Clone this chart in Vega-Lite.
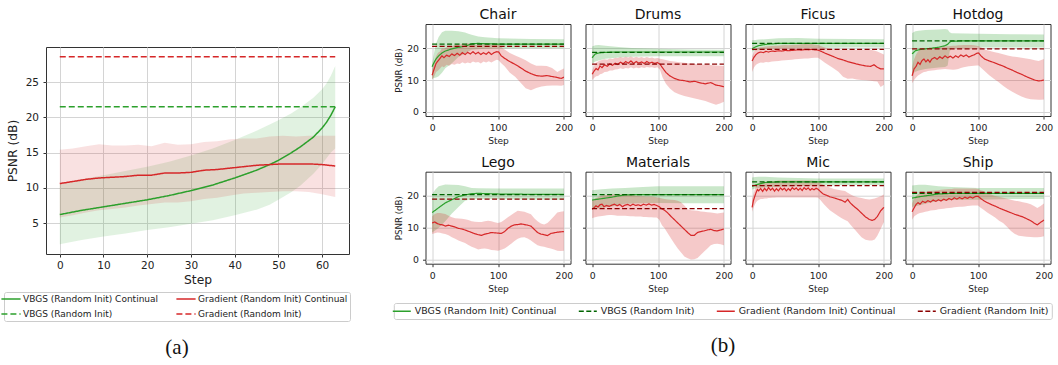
{
"$schema": "https://vega.github.io/schema/vega-lite/v6.json",
"background": "white",
"padding": {"left": 3, "top": 7, "right": 0, "bottom": 0},
"config": {
  "font": "DejaVu Sans",
  "view": {"stroke": "#333333", "strokeWidth": 1, "continuousWidth": 145, "continuousHeight": 92},
  "axis": {"grid": true, "gridColor": "#d4d4d4", "gridWidth": 1, "domain": false, "tickColor": "#333333", "tickSize": 3, "labelColor": "#222222", "titleColor": "#222222", "labelFont": "DejaVu Sans", "titleFont": "DejaVu Sans", "titleFontWeight": "normal", "labelFlush": false, "labelOverlap": false, "labelFontSize": 9.3, "titleFontSize": 9.1, "labelPadding": 4.5, "titlePadding": 3.5},
  "axisY": {"labelPadding": 4, "titlePadding": 3.4, "titleFontSize": 8.7},
  "legend": {"title": null, "strokeColor": "#cccccc", "fillColor": "white", "cornerRadius": 2, "labelColor": "#222222", "labelFont": "DejaVu Sans", "symbolStrokeWidth": 1.5},
  "title": {"font": "DejaVu Sans", "fontSize": 14, "fontWeight": "normal", "offset": 2, "color": "#111111", "anchor": "middle"}
},
"resolve": {"scale": {"color": "independent", "strokeDash": "independent", "x": "independent", "y": "independent"}, "legend": {"color": "independent", "strokeDash": "independent"}},
"spacing": 41.5,
"datasets": {
"a": [
{"k":"VC","t":0,"y":6.2,"l":2.0,"h":10.5},{"k":"VC","t":5,"y":6.8,"l":2.6,"h":11.2},{"k":"VC","t":10,"y":7.3,"l":3.1,"h":11.8},{"k":"VC","t":15,"y":7.8,"l":3.5,"h":12.4},{"k":"VC","t":20,"y":8.3,"l":4.0,"h":13.0},{"k":"VC","t":25,"y":8.9,"l":4.4,"h":13.7},{"k":"VC","t":30,"y":9.6,"l":4.9,"h":14.6},{"k":"VC","t":35,"y":10.4,"l":5.4,"h":15.6},{"k":"VC","t":40,"y":11.4,"l":6.1,"h":16.8},{"k":"VC","t":45,"y":12.5,"l":6.9,"h":18.1},{"k":"VC","t":48,"y":13.3,"l":7.6,"h":19.0},{"k":"VC","t":50,"y":13.9,"l":8.3,"h":19.6},{"k":"VC","t":53,"y":15.0,"l":9.4,"h":20.6},{"k":"VC","t":55,"y":15.8,"l":10.3,"h":21.4},{"k":"VC","t":58,"y":17.2,"l":12.0,"h":22.8},{"k":"VC","t":60,"y":18.5,"l":13.4,"h":24.0},{"k":"VC","t":61,"y":19.3,"l":14.2,"h":24.8},{"k":"VC","t":62,"y":20.3,"l":15.0,"h":25.9},{"k":"VC","t":63,"y":21.5,"l":15.6,"h":27.3},
{"k":"GC","t":0,"y":10.6,"l":5.8,"h":15.4},{"k":"GC","t":3,"y":10.9,"l":6.1,"h":15.6},{"k":"GC","t":6,"y":11.2,"l":6.5,"h":15.9},{"k":"GC","t":9,"y":11.4,"l":6.8,"h":16.2},{"k":"GC","t":12,"y":11.5,"l":7.0,"h":16.0},{"k":"GC","t":15,"y":11.6,"l":7.2,"h":16.0},{"k":"GC","t":18,"y":11.8,"l":7.5,"h":16.1},{"k":"GC","t":21,"y":11.8,"l":7.7,"h":15.9},{"k":"GC","t":24,"y":12.1,"l":7.9,"h":16.4},{"k":"GC","t":27,"y":12.1,"l":7.9,"h":16.1},{"k":"GC","t":30,"y":12.2,"l":8.1,"h":16.2},{"k":"GC","t":33,"y":12.5,"l":8.4,"h":16.5},{"k":"GC","t":36,"y":12.6,"l":8.6,"h":16.6},{"k":"GC","t":39,"y":12.8,"l":8.9,"h":16.9},{"k":"GC","t":42,"y":13.0,"l":9.2,"h":17.0},{"k":"GC","t":45,"y":13.2,"l":9.3,"h":17.0},{"k":"GC","t":48,"y":13.3,"l":9.4,"h":17.3},{"k":"GC","t":51,"y":13.4,"l":9.5,"h":17.4},{"k":"GC","t":54,"y":13.4,"l":9.5,"h":17.3},{"k":"GC","t":57,"y":13.4,"l":9.4,"h":17.4},{"k":"GC","t":60,"y":13.3,"l":9.1,"h":17.4},{"k":"GC","t":63,"y":13.1,"l":8.7,"h":17.4},
{"k":"VD","t":0,"y":21.5},{"k":"VD","t":63,"y":21.5},{"k":"GD","t":0,"y":28.6},{"k":"GD","t":63,"y":28.6}
],
"b": [
{"s":"Chair","k":"VC","t":0,"y":14.2,"l":10.3,"h":15.0},{"s":"Chair","k":"VC","t":3,"y":15.5,"l":10.6,"h":18.5},{"s":"Chair","k":"VC","t":6,"y":16.6,"l":10.8,"h":21.5},{"s":"Chair","k":"VC","t":10,"y":17.6,"l":11.2,"h":23.5},{"s":"Chair","k":"VC","t":15,"y":18.5,"l":12.3,"h":25.0},{"s":"Chair","k":"VC","t":20,"y":19.1,"l":13.7,"h":25.5},{"s":"Chair","k":"VC","t":30,"y":19.8,"l":15.3,"h":25.5},{"s":"Chair","k":"VC","t":40,"y":20.3,"l":17.2,"h":25.3},{"s":"Chair","k":"VC","t":50,"y":20.6,"l":18.4,"h":24.9},{"s":"Chair","k":"VC","t":55,"y":21.0,"l":19.0,"h":24.5},{"s":"Chair","k":"VC","t":60,"y":21.4,"l":19.5,"h":24.2},{"s":"Chair","k":"VC","t":70,"y":21.5,"l":19.7,"h":23.7},{"s":"Chair","k":"VC","t":80,"y":21.4,"l":19.8,"h":23.4},{"s":"Chair","k":"VC","t":100,"y":21.3,"l":19.9,"h":23.1},{"s":"Chair","k":"VC","t":150,"y":21.3,"l":20.0,"h":22.9},{"s":"Chair","k":"VC","t":200,"y":21.3,"l":20.0,"h":22.8},
{"s":"Chair","k":"GC","t":0,"y":11.5,"l":10.2,"h":13.0},{"s":"Chair","k":"GC","t":3,"y":13.4,"l":11.0,"h":15.5},{"s":"Chair","k":"GC","t":6,"y":15.2,"l":12.5,"h":17.5},{"s":"Chair","k":"GC","t":9,"y":16.0,"l":13.0,"h":18.6},{"s":"Chair","k":"GC","t":12,"y":16.8,"l":13.6,"h":19.0},{"s":"Chair","k":"GC","t":15,"y":17.6,"l":14.3,"h":20.0},{"s":"Chair","k":"GC","t":18,"y":17.0,"l":14.0,"h":19.8},{"s":"Chair","k":"GC","t":22,"y":17.8,"l":14.8,"h":20.3},{"s":"Chair","k":"GC","t":26,"y":17.4,"l":14.5,"h":20.6},{"s":"Chair","k":"GC","t":30,"y":18.2,"l":15.0,"h":20.6},{"s":"Chair","k":"GC","t":34,"y":17.7,"l":14.8,"h":21.0},{"s":"Chair","k":"GC","t":38,"y":18.4,"l":15.2,"h":21.2},{"s":"Chair","k":"GC","t":42,"y":17.8,"l":15.0,"h":21.0},{"s":"Chair","k":"GC","t":46,"y":18.6,"l":15.6,"h":21.5},{"s":"Chair","k":"GC","t":50,"y":18.0,"l":15.2,"h":21.3},{"s":"Chair","k":"GC","t":54,"y":18.7,"l":15.5,"h":21.6},{"s":"Chair","k":"GC","t":58,"y":18.2,"l":15.3,"h":21.2},{"s":"Chair","k":"GC","t":62,"y":18.9,"l":15.8,"h":21.4},{"s":"Chair","k":"GC","t":66,"y":18.2,"l":15.5,"h":21.0},{"s":"Chair","k":"GC","t":70,"y":18.7,"l":15.7,"h":21.5},{"s":"Chair","k":"GC","t":74,"y":18.0,"l":15.2,"h":21.0},{"s":"Chair","k":"GC","t":78,"y":18.6,"l":15.8,"h":21.3},{"s":"Chair","k":"GC","t":82,"y":18.1,"l":15.5,"h":21.6},{"s":"Chair","k":"GC","t":86,"y":18.8,"l":15.9,"h":21.2},{"s":"Chair","k":"GC","t":90,"y":18.0,"l":15.5,"h":21.0},{"s":"Chair","k":"GC","t":94,"y":18.6,"l":16.0,"h":21.4},{"s":"Chair","k":"GC","t":98,"y":18.9,"l":16.4,"h":21.5},{"s":"Chair","k":"GC","t":101,"y":18.8,"l":16.2,"h":21.2},{"s":"Chair","k":"GC","t":105,"y":17.6,"l":15.3,"h":20.4},{"s":"Chair","k":"GC","t":110,"y":16.8,"l":14.3,"h":19.6},{"s":"Chair","k":"GC","t":118,"y":15.8,"l":12.3,"h":18.5},{"s":"Chair","k":"GC","t":126,"y":14.9,"l":11.0,"h":17.7},{"s":"Chair","k":"GC","t":134,"y":13.9,"l":9.2,"h":17.0},{"s":"Chair","k":"GC","t":142,"y":12.8,"l":7.4,"h":16.2},{"s":"Chair","k":"GC","t":150,"y":12.0,"l":6.8,"h":15.2},{"s":"Chair","k":"GC","t":158,"y":11.4,"l":7.5,"h":14.5},{"s":"Chair","k":"GC","t":166,"y":11.2,"l":8.0,"h":14.5},{"s":"Chair","k":"GC","t":174,"y":11.4,"l":8.2,"h":14.4},{"s":"Chair","k":"GC","t":182,"y":11.1,"l":8.3,"h":13.8},{"s":"Chair","k":"GC","t":190,"y":10.8,"l":8.3,"h":12.5},{"s":"Chair","k":"GC","t":196,"y":10.5,"l":8.2,"h":13.2},{"s":"Chair","k":"GC","t":200,"y":10.9,"l":8.4,"h":13.6},
{"s":"Chair","k":"VD","t":0,"y":21.3},{"s":"Chair","k":"VD","t":200,"y":21.3},{"s":"Chair","k":"GD","t":0,"y":20.6},{"s":"Chair","k":"GD","t":200,"y":20.6},
{"s":"Drums","k":"VC","t":0,"y":17.0,"l":15.2,"h":20.5},{"s":"Drums","k":"VC","t":5,"y":18.2,"l":15.8,"h":20.9},{"s":"Drums","k":"VC","t":10,"y":18.5,"l":16.1,"h":21.0},{"s":"Drums","k":"VC","t":20,"y":18.7,"l":16.7,"h":20.8},{"s":"Drums","k":"VC","t":40,"y":18.8,"l":17.1,"h":20.4},{"s":"Drums","k":"VC","t":60,"y":18.8,"l":17.3,"h":20.1},{"s":"Drums","k":"VC","t":100,"y":18.8,"l":17.5,"h":19.8},{"s":"Drums","k":"VC","t":150,"y":18.8,"l":17.5,"h":19.6},{"s":"Drums","k":"VC","t":200,"y":18.8,"l":17.5,"h":19.5},
{"s":"Drums","k":"GC","t":0,"y":11.8,"l":10.0,"h":13.0},{"s":"Drums","k":"GC","t":3,"y":12.8,"l":10.6,"h":14.5},{"s":"Drums","k":"GC","t":6,"y":13.6,"l":11.2,"h":15.4},{"s":"Drums","k":"GC","t":9,"y":13.2,"l":11.3,"h":15.8},{"s":"Drums","k":"GC","t":12,"y":14.4,"l":11.8,"h":16.1},{"s":"Drums","k":"GC","t":15,"y":13.9,"l":12.0,"h":16.3},{"s":"Drums","k":"GC","t":19,"y":14.8,"l":12.5,"h":16.5},{"s":"Drums","k":"GC","t":23,"y":14.3,"l":12.6,"h":16.4},{"s":"Drums","k":"GC","t":27,"y":15.1,"l":13.0,"h":16.8},{"s":"Drums","k":"GC","t":31,"y":14.6,"l":13.0,"h":16.6},{"s":"Drums","k":"GC","t":35,"y":15.3,"l":13.3,"h":17.0},{"s":"Drums","k":"GC","t":39,"y":14.9,"l":13.4,"h":16.9},{"s":"Drums","k":"GC","t":43,"y":15.6,"l":13.7,"h":17.2},{"s":"Drums","k":"GC","t":47,"y":15.1,"l":13.5,"h":17.0},{"s":"Drums","k":"GC","t":51,"y":15.8,"l":13.8,"h":17.3},{"s":"Drums","k":"GC","t":55,"y":15.3,"l":13.6,"h":17.1},{"s":"Drums","k":"GC","t":59,"y":16.0,"l":14.0,"h":17.4},{"s":"Drums","k":"GC","t":63,"y":15.2,"l":13.6,"h":17.0},{"s":"Drums","k":"GC","t":67,"y":15.8,"l":13.9,"h":17.3},{"s":"Drums","k":"GC","t":71,"y":15.3,"l":13.7,"h":17.0},{"s":"Drums","k":"GC","t":75,"y":15.7,"l":14.0,"h":17.2},{"s":"Drums","k":"GC","t":79,"y":15.2,"l":13.8,"h":16.9},{"s":"Drums","k":"GC","t":83,"y":15.8,"l":14.1,"h":17.2},{"s":"Drums","k":"GC","t":87,"y":15.3,"l":13.9,"h":16.9},{"s":"Drums","k":"GC","t":91,"y":15.6,"l":14.0,"h":17.1},{"s":"Drums","k":"GC","t":95,"y":15.2,"l":13.8,"h":16.8},{"s":"Drums","k":"GC","t":99,"y":15.5,"l":14.0,"h":16.9},{"s":"Drums","k":"GC","t":103,"y":15.0,"l":13.2,"h":16.7},{"s":"Drums","k":"GC","t":107,"y":13.8,"l":10.8,"h":16.5},{"s":"Drums","k":"GC","t":112,"y":12.4,"l":8.8,"h":16.3},{"s":"Drums","k":"GC","t":118,"y":11.3,"l":7.3,"h":16.0},{"s":"Drums","k":"GC","t":125,"y":10.5,"l":6.2,"h":15.8},{"s":"Drums","k":"GC","t":132,"y":10.0,"l":5.5,"h":15.6},{"s":"Drums","k":"GC","t":140,"y":9.8,"l":5.0,"h":15.4},{"s":"Drums","k":"GC","t":148,"y":9.4,"l":4.6,"h":15.2},{"s":"Drums","k":"GC","t":156,"y":9.6,"l":4.2,"h":15.0},{"s":"Drums","k":"GC","t":164,"y":9.1,"l":3.8,"h":14.9},{"s":"Drums","k":"GC","t":172,"y":8.8,"l":3.4,"h":14.8},{"s":"Drums","k":"GC","t":180,"y":9.2,"l":2.8,"h":14.7},{"s":"Drums","k":"GC","t":188,"y":8.4,"l":2.2,"h":14.6},{"s":"Drums","k":"GC","t":194,"y":8.2,"l":2.6,"h":14.5},{"s":"Drums","k":"GC","t":200,"y":7.9,"l":3.2,"h":14.4},
{"s":"Drums","k":"VD","t":0,"y":18.7},{"s":"Drums","k":"VD","t":200,"y":18.7},{"s":"Drums","k":"GD","t":0,"y":15.0},{"s":"Drums","k":"GD","t":200,"y":15.0},
{"s":"Ficus","k":"VC","t":0,"y":19.8,"l":19.0,"h":22.5},{"s":"Ficus","k":"VC","t":5,"y":20.4,"l":19.3,"h":22.6},{"s":"Ficus","k":"VC","t":10,"y":20.8,"l":19.5,"h":22.7},{"s":"Ficus","k":"VC","t":20,"y":21.2,"l":19.8,"h":22.8},{"s":"Ficus","k":"VC","t":40,"y":21.5,"l":20.0,"h":23.1},{"s":"Ficus","k":"VC","t":70,"y":21.5,"l":20.1,"h":23.2},{"s":"Ficus","k":"VC","t":100,"y":21.5,"l":20.1,"h":23.0},{"s":"Ficus","k":"VC","t":150,"y":21.5,"l":20.2,"h":22.9},{"s":"Ficus","k":"VC","t":200,"y":21.5,"l":20.2,"h":22.8},
{"s":"Ficus","k":"GC","t":0,"y":16.0,"l":12.5,"h":17.5},{"s":"Ficus","k":"GC","t":3,"y":17.2,"l":14.0,"h":19.0},{"s":"Ficus","k":"GC","t":6,"y":18.0,"l":14.8,"h":19.8},{"s":"Ficus","k":"GC","t":9,"y":18.5,"l":15.2,"h":20.1},{"s":"Ficus","k":"GC","t":13,"y":18.8,"l":15.5,"h":20.3},{"s":"Ficus","k":"GC","t":17,"y":18.6,"l":15.4,"h":20.4},{"s":"Ficus","k":"GC","t":21,"y":19.0,"l":15.7,"h":20.5},{"s":"Ficus","k":"GC","t":25,"y":18.8,"l":15.6,"h":20.6},{"s":"Ficus","k":"GC","t":30,"y":19.1,"l":15.8,"h":20.7},{"s":"Ficus","k":"GC","t":35,"y":19.0,"l":15.9,"h":20.8},{"s":"Ficus","k":"GC","t":40,"y":19.2,"l":16.0,"h":20.8},{"s":"Ficus","k":"GC","t":45,"y":19.1,"l":16.1,"h":20.9},{"s":"Ficus","k":"GC","t":50,"y":19.3,"l":16.2,"h":21.0},{"s":"Ficus","k":"GC","t":55,"y":19.2,"l":16.3,"h":20.9},{"s":"Ficus","k":"GC","t":60,"y":19.3,"l":16.4,"h":21.0},{"s":"Ficus","k":"GC","t":65,"y":19.4,"l":16.5,"h":21.1},{"s":"Ficus","k":"GC","t":70,"y":19.5,"l":16.6,"h":21.1},{"s":"Ficus","k":"GC","t":75,"y":19.4,"l":16.7,"h":21.2},{"s":"Ficus","k":"GC","t":80,"y":19.6,"l":16.8,"h":21.3},{"s":"Ficus","k":"GC","t":85,"y":19.5,"l":16.8,"h":21.2},{"s":"Ficus","k":"GC","t":90,"y":19.6,"l":16.9,"h":21.3},{"s":"Ficus","k":"GC","t":95,"y":19.5,"l":17.0,"h":21.1},{"s":"Ficus","k":"GC","t":100,"y":19.4,"l":17.0,"h":21.0},{"s":"Ficus","k":"GC","t":105,"y":19.0,"l":16.3,"h":20.6},{"s":"Ficus","k":"GC","t":110,"y":18.5,"l":15.5,"h":20.2},{"s":"Ficus","k":"GC","t":117,"y":17.9,"l":14.6,"h":19.9},{"s":"Ficus","k":"GC","t":124,"y":17.3,"l":13.6,"h":19.7},{"s":"Ficus","k":"GC","t":131,"y":16.7,"l":12.6,"h":19.6},{"s":"Ficus","k":"GC","t":138,"y":16.3,"l":11.0,"h":19.5},{"s":"Ficus","k":"GC","t":145,"y":15.8,"l":10.4,"h":19.5},{"s":"Ficus","k":"GC","t":152,"y":15.4,"l":10.5,"h":19.5},{"s":"Ficus","k":"GC","t":159,"y":15.0,"l":10.2,"h":19.5},{"s":"Ficus","k":"GC","t":166,"y":14.7,"l":10.0,"h":19.5},{"s":"Ficus","k":"GC","t":173,"y":14.4,"l":9.9,"h":19.5},{"s":"Ficus","k":"GC","t":180,"y":14.3,"l":9.8,"h":19.5},{"s":"Ficus","k":"GC","t":185,"y":14.8,"l":9.6,"h":19.3},{"s":"Ficus","k":"GC","t":190,"y":14.0,"l":9.5,"h":19.0},{"s":"Ficus","k":"GC","t":195,"y":13.5,"l":7.8,"h":18.5},{"s":"Ficus","k":"GC","t":200,"y":13.5,"l":8.5,"h":18.0},
{"s":"Ficus","k":"VD","t":0,"y":21.5},{"s":"Ficus","k":"VD","t":200,"y":21.5},{"s":"Ficus","k":"GD","t":0,"y":19.6},{"s":"Ficus","k":"GD","t":200,"y":19.6},
{"s":"Hotdog","k":"VC","t":0,"y":18.2,"l":12.0,"h":24.8},{"s":"Hotdog","k":"VC","t":5,"y":19.2,"l":12.6,"h":25.3},{"s":"Hotdog","k":"VC","t":10,"y":19.5,"l":13.0,"h":25.5},{"s":"Hotdog","k":"VC","t":20,"y":19.8,"l":13.5,"h":25.7},{"s":"Hotdog","k":"VC","t":30,"y":20.0,"l":13.7,"h":25.8},{"s":"Hotdog","k":"VC","t":40,"y":20.3,"l":13.9,"h":25.9},{"s":"Hotdog","k":"VC","t":50,"y":20.8,"l":14.1,"h":26.0},{"s":"Hotdog","k":"VC","t":54,"y":21.2,"l":14.6,"h":25.9},{"s":"Hotdog","k":"VC","t":57,"y":21.9,"l":19.0,"h":25.0},{"s":"Hotdog","k":"VC","t":60,"y":22.2,"l":20.0,"h":24.7},{"s":"Hotdog","k":"VC","t":80,"y":22.3,"l":20.1,"h":24.6},{"s":"Hotdog","k":"VC","t":100,"y":22.3,"l":20.2,"h":24.5},{"s":"Hotdog","k":"VC","t":150,"y":22.3,"l":20.2,"h":24.4},{"s":"Hotdog","k":"VC","t":200,"y":22.3,"l":20.2,"h":24.3},
{"s":"Hotdog","k":"GC","t":0,"y":11.3,"l":9.0,"h":14.0},{"s":"Hotdog","k":"GC","t":3,"y":13.5,"l":10.0,"h":16.5},{"s":"Hotdog","k":"GC","t":6,"y":14.3,"l":10.8,"h":18.0},{"s":"Hotdog","k":"GC","t":9,"y":15.6,"l":11.4,"h":19.0},{"s":"Hotdog","k":"GC","t":12,"y":14.9,"l":11.8,"h":19.5},{"s":"Hotdog","k":"GC","t":15,"y":16.1,"l":12.2,"h":19.7},{"s":"Hotdog","k":"GC","t":18,"y":16.6,"l":12.5,"h":19.8},{"s":"Hotdog","k":"GC","t":21,"y":15.7,"l":12.6,"h":19.9},{"s":"Hotdog","k":"GC","t":24,"y":16.4,"l":12.8,"h":20.0},{"s":"Hotdog","k":"GC","t":27,"y":15.6,"l":12.9,"h":20.0},{"s":"Hotdog","k":"GC","t":30,"y":16.6,"l":13.0,"h":20.1},{"s":"Hotdog","k":"GC","t":34,"y":17.1,"l":13.1,"h":20.2},{"s":"Hotdog","k":"GC","t":38,"y":16.5,"l":13.2,"h":20.3},{"s":"Hotdog","k":"GC","t":42,"y":17.3,"l":13.3,"h":20.4},{"s":"Hotdog","k":"GC","t":46,"y":16.8,"l":13.4,"h":20.5},{"s":"Hotdog","k":"GC","t":50,"y":17.6,"l":13.5,"h":20.5},{"s":"Hotdog","k":"GC","t":54,"y":17.0,"l":13.4,"h":20.6},{"s":"Hotdog","k":"GC","t":58,"y":17.5,"l":13.3,"h":20.7},{"s":"Hotdog","k":"GC","t":62,"y":16.9,"l":13.2,"h":20.8},{"s":"Hotdog","k":"GC","t":66,"y":17.6,"l":13.3,"h":20.8},{"s":"Hotdog","k":"GC","t":70,"y":17.1,"l":13.5,"h":20.9},{"s":"Hotdog","k":"GC","t":74,"y":17.9,"l":13.8,"h":20.9},{"s":"Hotdog","k":"GC","t":78,"y":17.4,"l":14.0,"h":21.0},{"s":"Hotdog","k":"GC","t":82,"y":17.9,"l":14.2,"h":21.0},{"s":"Hotdog","k":"GC","t":86,"y":17.2,"l":14.3,"h":21.0},{"s":"Hotdog","k":"GC","t":90,"y":17.6,"l":14.4,"h":21.0},{"s":"Hotdog","k":"GC","t":94,"y":17.9,"l":14.5,"h":20.9},{"s":"Hotdog","k":"GC","t":98,"y":18.4,"l":14.6,"h":20.8},{"s":"Hotdog","k":"GC","t":101,"y":18.5,"l":14.6,"h":20.6},{"s":"Hotdog","k":"GC","t":105,"y":17.5,"l":13.8,"h":20.2},{"s":"Hotdog","k":"GC","t":110,"y":16.6,"l":12.8,"h":19.6},{"s":"Hotdog","k":"GC","t":117,"y":16.0,"l":11.5,"h":19.2},{"s":"Hotdog","k":"GC","t":124,"y":15.5,"l":10.4,"h":18.8},{"s":"Hotdog","k":"GC","t":131,"y":14.9,"l":9.4,"h":18.5},{"s":"Hotdog","k":"GC","t":138,"y":14.4,"l":8.2,"h":18.1},{"s":"Hotdog","k":"GC","t":145,"y":13.7,"l":7.2,"h":17.7},{"s":"Hotdog","k":"GC","t":152,"y":13.1,"l":6.3,"h":17.4},{"s":"Hotdog","k":"GC","t":159,"y":12.4,"l":5.5,"h":17.2},{"s":"Hotdog","k":"GC","t":166,"y":11.8,"l":4.8,"h":17.0},{"s":"Hotdog","k":"GC","t":173,"y":11.1,"l":4.3,"h":16.8},{"s":"Hotdog","k":"GC","t":180,"y":10.5,"l":4.0,"h":16.5},{"s":"Hotdog","k":"GC","t":186,"y":10.0,"l":3.9,"h":16.2},{"s":"Hotdog","k":"GC","t":192,"y":9.7,"l":3.8,"h":16.0},{"s":"Hotdog","k":"GC","t":196,"y":9.8,"l":3.8,"h":16.3},{"s":"Hotdog","k":"GC","t":200,"y":10.0,"l":3.9,"h":16.6},
{"s":"Hotdog","k":"VD","t":0,"y":22.3},{"s":"Hotdog","k":"VD","t":200,"y":22.3},{"s":"Hotdog","k":"GD","t":0,"y":19.8},{"s":"Hotdog","k":"GD","t":200,"y":19.8},
{"s":"Lego","k":"VC","t":0,"y":14.8,"l":8.5,"h":20.5},{"s":"Lego","k":"VC","t":5,"y":15.5,"l":9.2,"h":22.0},{"s":"Lego","k":"VC","t":10,"y":16.3,"l":10.0,"h":23.0},{"s":"Lego","k":"VC","t":20,"y":17.8,"l":12.0,"h":23.6},{"s":"Lego","k":"VC","t":30,"y":18.8,"l":14.5,"h":23.5},{"s":"Lego","k":"VC","t":40,"y":19.8,"l":16.5,"h":23.4},{"s":"Lego","k":"VC","t":50,"y":20.3,"l":18.5,"h":23.0},{"s":"Lego","k":"VC","t":60,"y":20.7,"l":19.0,"h":22.5},{"s":"Lego","k":"VC","t":70,"y":20.8,"l":19.0,"h":22.4},{"s":"Lego","k":"VC","t":100,"y":20.6,"l":19.0,"h":22.3},{"s":"Lego","k":"VC","t":150,"y":20.5,"l":18.9,"h":22.3},{"s":"Lego","k":"VC","t":200,"y":20.5,"l":18.8,"h":22.3},
{"s":"Lego","k":"GC","t":0,"y":11.5,"l":8.0,"h":13.5},{"s":"Lego","k":"GC","t":4,"y":11.8,"l":8.3,"h":14.3},{"s":"Lego","k":"GC","t":8,"y":11.3,"l":8.5,"h":14.6},{"s":"Lego","k":"GC","t":12,"y":11.0,"l":8.4,"h":14.6},{"s":"Lego","k":"GC","t":16,"y":10.9,"l":8.2,"h":14.5},{"s":"Lego","k":"GC","t":20,"y":10.5,"l":8.0,"h":14.3},{"s":"Lego","k":"GC","t":25,"y":10.8,"l":7.6,"h":13.8},{"s":"Lego","k":"GC","t":30,"y":10.5,"l":7.0,"h":13.3},{"s":"Lego","k":"GC","t":35,"y":10.2,"l":6.5,"h":13.0},{"s":"Lego","k":"GC","t":40,"y":9.8,"l":6.0,"h":12.9},{"s":"Lego","k":"GC","t":45,"y":9.6,"l":5.6,"h":12.8},{"s":"Lego","k":"GC","t":50,"y":9.3,"l":5.2,"h":12.7},{"s":"Lego","k":"GC","t":55,"y":8.9,"l":4.6,"h":12.4},{"s":"Lego","k":"GC","t":60,"y":8.5,"l":4.0,"h":12.0},{"s":"Lego","k":"GC","t":65,"y":8.1,"l":3.6,"h":11.9},{"s":"Lego","k":"GC","t":70,"y":7.8,"l":3.2,"h":11.8},{"s":"Lego","k":"GC","t":75,"y":7.6,"l":3.4,"h":11.8},{"s":"Lego","k":"GC","t":80,"y":8.0,"l":3.5,"h":12.0},{"s":"Lego","k":"GC","t":85,"y":8.2,"l":3.3,"h":12.2},{"s":"Lego","k":"GC","t":90,"y":8.5,"l":3.0,"h":12.0},{"s":"Lego","k":"GC","t":95,"y":8.4,"l":2.9,"h":11.7},{"s":"Lego","k":"GC","t":100,"y":8.3,"l":2.8,"h":11.5},{"s":"Lego","k":"GC","t":105,"y":8.2,"l":3.1,"h":11.8},{"s":"Lego","k":"GC","t":110,"y":8.8,"l":3.5,"h":12.5},{"s":"Lego","k":"GC","t":115,"y":9.8,"l":4.2,"h":13.3},{"s":"Lego","k":"GC","t":120,"y":10.5,"l":5.0,"h":14.0},{"s":"Lego","k":"GC","t":125,"y":10.9,"l":5.8,"h":14.7},{"s":"Lego","k":"GC","t":130,"y":11.0,"l":6.5,"h":15.3},{"s":"Lego","k":"GC","t":135,"y":11.2,"l":6.9,"h":15.2},{"s":"Lego","k":"GC","t":140,"y":11.0,"l":7.0,"h":15.0},{"s":"Lego","k":"GC","t":145,"y":10.8,"l":6.6,"h":14.6},{"s":"Lego","k":"GC","t":150,"y":10.5,"l":6.0,"h":14.2},{"s":"Lego","k":"GC","t":155,"y":9.5,"l":5.2,"h":13.0},{"s":"Lego","k":"GC","t":160,"y":8.5,"l":4.5,"h":12.0},{"s":"Lego","k":"GC","t":165,"y":8.0,"l":4.2,"h":11.3},{"s":"Lego","k":"GC","t":170,"y":7.8,"l":4.0,"h":11.0},{"s":"Lego","k":"GC","t":175,"y":7.5,"l":3.7,"h":11.5},{"s":"Lego","k":"GC","t":180,"y":8.2,"l":3.5,"h":12.5},{"s":"Lego","k":"GC","t":185,"y":8.4,"l":3.2,"h":13.6},{"s":"Lego","k":"GC","t":190,"y":8.6,"l":2.8,"h":14.8},{"s":"Lego","k":"GC","t":195,"y":8.7,"l":2.7,"h":15.0},{"s":"Lego","k":"GC","t":200,"y":8.8,"l":2.8,"h":15.2},
{"s":"Lego","k":"VD","t":0,"y":20.4},{"s":"Lego","k":"VD","t":200,"y":20.4},{"s":"Lego","k":"GD","t":0,"y":19.0},{"s":"Lego","k":"GD","t":200,"y":19.0},
{"s":"Materials","k":"VC","t":0,"y":18.7,"l":15.8,"h":21.8},{"s":"Materials","k":"VC","t":10,"y":19.0,"l":16.1,"h":22.0},{"s":"Materials","k":"VC","t":20,"y":19.3,"l":16.4,"h":22.2},{"s":"Materials","k":"VC","t":30,"y":19.6,"l":16.7,"h":22.3},{"s":"Materials","k":"VC","t":40,"y":20.0,"l":17.1,"h":22.4},{"s":"Materials","k":"VC","t":50,"y":20.3,"l":17.5,"h":22.5},{"s":"Materials","k":"VC","t":70,"y":20.4,"l":17.7,"h":22.7},{"s":"Materials","k":"VC","t":100,"y":20.4,"l":17.8,"h":23.0},{"s":"Materials","k":"VC","t":150,"y":20.4,"l":17.7,"h":23.0},{"s":"Materials","k":"VC","t":200,"y":20.4,"l":17.7,"h":23.0},
{"s":"Materials","k":"GC","t":0,"y":15.8,"l":13.0,"h":18.5},{"s":"Materials","k":"GC","t":3,"y":16.3,"l":13.2,"h":19.0},{"s":"Materials","k":"GC","t":6,"y":16.9,"l":13.4,"h":19.3},{"s":"Materials","k":"GC","t":9,"y":16.5,"l":13.5,"h":19.6},{"s":"Materials","k":"GC","t":12,"y":17.2,"l":13.6,"h":19.9},{"s":"Materials","k":"GC","t":15,"y":17.4,"l":13.7,"h":20.1},{"s":"Materials","k":"GC","t":18,"y":16.6,"l":13.8,"h":20.2},{"s":"Materials","k":"GC","t":22,"y":17.0,"l":13.9,"h":20.3},{"s":"Materials","k":"GC","t":26,"y":16.7,"l":14.0,"h":20.4},{"s":"Materials","k":"GC","t":30,"y":17.1,"l":14.0,"h":20.5},{"s":"Materials","k":"GC","t":34,"y":17.4,"l":13.9,"h":20.5},{"s":"Materials","k":"GC","t":38,"y":16.9,"l":13.8,"h":20.6},{"s":"Materials","k":"GC","t":42,"y":17.3,"l":13.8,"h":20.5},{"s":"Materials","k":"GC","t":46,"y":16.6,"l":13.8,"h":20.4},{"s":"Materials","k":"GC","t":50,"y":17.1,"l":13.8,"h":20.5},{"s":"Materials","k":"GC","t":54,"y":17.3,"l":13.7,"h":20.4},{"s":"Materials","k":"GC","t":58,"y":16.9,"l":13.6,"h":20.3},{"s":"Materials","k":"GC","t":62,"y":17.4,"l":13.6,"h":20.2},{"s":"Materials","k":"GC","t":66,"y":17.0,"l":13.5,"h":20.1},{"s":"Materials","k":"GC","t":70,"y":17.2,"l":13.5,"h":20.0},{"s":"Materials","k":"GC","t":74,"y":16.9,"l":13.5,"h":19.9},{"s":"Materials","k":"GC","t":78,"y":17.4,"l":13.4,"h":19.9},{"s":"Materials","k":"GC","t":82,"y":17.1,"l":13.4,"h":19.8},{"s":"Materials","k":"GC","t":86,"y":17.5,"l":13.3,"h":19.8},{"s":"Materials","k":"GC","t":90,"y":17.1,"l":13.3,"h":19.8},{"s":"Materials","k":"GC","t":94,"y":17.3,"l":13.2,"h":19.7},{"s":"Materials","k":"GC","t":98,"y":17.0,"l":13.2,"h":19.6},{"s":"Materials","k":"GC","t":102,"y":16.6,"l":12.5,"h":19.4},{"s":"Materials","k":"GC","t":106,"y":15.9,"l":10.8,"h":19.2},{"s":"Materials","k":"GC","t":110,"y":15.5,"l":9.8,"h":19.0},{"s":"Materials","k":"GC","t":115,"y":14.6,"l":8.2,"h":18.9},{"s":"Materials","k":"GC","t":120,"y":13.5,"l":6.5,"h":18.8},{"s":"Materials","k":"GC","t":125,"y":12.5,"l":5.0,"h":18.7},{"s":"Materials","k":"GC","t":130,"y":11.5,"l":3.5,"h":18.5},{"s":"Materials","k":"GC","t":135,"y":10.5,"l":2.2,"h":18.0},{"s":"Materials","k":"GC","t":140,"y":9.5,"l":1.0,"h":17.0},{"s":"Materials","k":"GC","t":145,"y":8.5,"l":0.4,"h":15.8},{"s":"Materials","k":"GC","t":150,"y":7.6,"l":0.0,"h":15.5},{"s":"Materials","k":"GC","t":155,"y":7.6,"l":0.1,"h":15.4},{"s":"Materials","k":"GC","t":160,"y":8.5,"l":0.5,"h":15.3},{"s":"Materials","k":"GC","t":165,"y":8.8,"l":1.5,"h":15.1},{"s":"Materials","k":"GC","t":170,"y":9.0,"l":2.5,"h":15.0},{"s":"Materials","k":"GC","t":175,"y":9.3,"l":3.5,"h":14.9},{"s":"Materials","k":"GC","t":180,"y":9.5,"l":4.5,"h":14.8},{"s":"Materials","k":"GC","t":185,"y":9.1,"l":4.9,"h":14.6},{"s":"Materials","k":"GC","t":190,"y":9.0,"l":5.0,"h":14.5},{"s":"Materials","k":"GC","t":195,"y":9.3,"l":4.8,"h":14.6},{"s":"Materials","k":"GC","t":200,"y":9.6,"l":4.5,"h":14.8},
{"s":"Materials","k":"VD","t":0,"y":20.4},{"s":"Materials","k":"VD","t":200,"y":20.4},{"s":"Materials","k":"GD","t":0,"y":16.0},{"s":"Materials","k":"GD","t":200,"y":16.0},
{"s":"Mic","k":"VC","t":0,"y":23.0,"l":22.0,"h":25.8},{"s":"Mic","k":"VC","t":5,"y":23.4,"l":22.3,"h":25.9},{"s":"Mic","k":"VC","t":10,"y":23.7,"l":22.5,"h":26.0},{"s":"Mic","k":"VC","t":20,"y":24.2,"l":22.7,"h":26.0},{"s":"Mic","k":"VC","t":40,"y":24.4,"l":22.9,"h":25.8},{"s":"Mic","k":"VC","t":70,"y":24.4,"l":23.1,"h":25.6},{"s":"Mic","k":"VC","t":100,"y":24.4,"l":23.3,"h":25.5},{"s":"Mic","k":"VC","t":150,"y":24.4,"l":23.4,"h":25.5},{"s":"Mic","k":"VC","t":200,"y":24.4,"l":23.4,"h":25.5},
{"s":"Mic","k":"GC","t":0,"y":16.4,"l":15.0,"h":19.0},{"s":"Mic","k":"GC","t":2,"y":18.5,"l":16.2,"h":20.5},{"s":"Mic","k":"GC","t":4,"y":19.8,"l":17.2,"h":22.0},{"s":"Mic","k":"GC","t":6,"y":21.0,"l":18.0,"h":23.0},{"s":"Mic","k":"GC","t":8,"y":22.0,"l":18.5,"h":23.8},{"s":"Mic","k":"GC","t":10,"y":21.6,"l":18.7,"h":24.0},{"s":"Mic","k":"GC","t":13,"y":22.3,"l":19.0,"h":24.2},{"s":"Mic","k":"GC","t":16,"y":21.4,"l":19.0,"h":24.3},{"s":"Mic","k":"GC","t":19,"y":22.4,"l":19.2,"h":24.4},{"s":"Mic","k":"GC","t":22,"y":21.6,"l":19.2,"h":24.5},{"s":"Mic","k":"GC","t":25,"y":22.6,"l":19.3,"h":24.5},{"s":"Mic","k":"GC","t":28,"y":21.8,"l":19.3,"h":24.6},{"s":"Mic","k":"GC","t":31,"y":22.4,"l":19.4,"h":24.6},{"s":"Mic","k":"GC","t":34,"y":21.5,"l":19.4,"h":24.7},{"s":"Mic","k":"GC","t":37,"y":22.3,"l":19.5,"h":24.7},{"s":"Mic","k":"GC","t":40,"y":21.6,"l":19.5,"h":24.8},{"s":"Mic","k":"GC","t":43,"y":22.5,"l":19.5,"h":24.8},{"s":"Mic","k":"GC","t":46,"y":21.9,"l":19.5,"h":24.8},{"s":"Mic","k":"GC","t":49,"y":22.4,"l":19.5,"h":24.8},{"s":"Mic","k":"GC","t":52,"y":21.6,"l":19.5,"h":24.8},{"s":"Mic","k":"GC","t":55,"y":22.3,"l":19.5,"h":24.8},{"s":"Mic","k":"GC","t":58,"y":21.7,"l":19.5,"h":24.8},{"s":"Mic","k":"GC","t":61,"y":22.6,"l":19.5,"h":24.8},{"s":"Mic","k":"GC","t":64,"y":22.0,"l":19.5,"h":24.8},{"s":"Mic","k":"GC","t":67,"y":22.5,"l":19.5,"h":24.8},{"s":"Mic","k":"GC","t":70,"y":21.8,"l":19.5,"h":24.8},{"s":"Mic","k":"GC","t":73,"y":22.4,"l":19.5,"h":24.8},{"s":"Mic","k":"GC","t":76,"y":21.7,"l":19.5,"h":24.8},{"s":"Mic","k":"GC","t":79,"y":22.6,"l":19.5,"h":24.8},{"s":"Mic","k":"GC","t":82,"y":22.0,"l":19.5,"h":24.8},{"s":"Mic","k":"GC","t":85,"y":22.5,"l":19.5,"h":24.8},{"s":"Mic","k":"GC","t":88,"y":21.8,"l":19.5,"h":24.8},{"s":"Mic","k":"GC","t":91,"y":22.3,"l":19.5,"h":24.8},{"s":"Mic","k":"GC","t":94,"y":21.9,"l":19.5,"h":24.7},{"s":"Mic","k":"GC","t":97,"y":22.4,"l":19.5,"h":24.6},{"s":"Mic","k":"GC","t":100,"y":22.1,"l":19.4,"h":24.5},{"s":"Mic","k":"GC","t":104,"y":21.3,"l":18.6,"h":24.0},{"s":"Mic","k":"GC","t":108,"y":20.6,"l":17.6,"h":23.5},{"s":"Mic","k":"GC","t":113,"y":20.2,"l":16.5,"h":23.0},{"s":"Mic","k":"GC","t":118,"y":19.7,"l":15.5,"h":22.6},{"s":"Mic","k":"GC","t":124,"y":19.4,"l":14.6,"h":22.2},{"s":"Mic","k":"GC","t":130,"y":19.0,"l":13.8,"h":21.9},{"s":"Mic","k":"GC","t":136,"y":18.6,"l":13.0,"h":21.7},{"s":"Mic","k":"GC","t":141,"y":18.0,"l":12.4,"h":21.5},{"s":"Mic","k":"GC","t":145,"y":18.9,"l":12.0,"h":21.0},{"s":"Mic","k":"GC","t":149,"y":17.8,"l":11.0,"h":20.5},{"s":"Mic","k":"GC","t":154,"y":16.8,"l":9.8,"h":20.0},{"s":"Mic","k":"GC","t":160,"y":15.8,"l":8.4,"h":19.6},{"s":"Mic","k":"GC","t":166,"y":14.6,"l":7.0,"h":19.3},{"s":"Mic","k":"GC","t":172,"y":13.4,"l":6.2,"h":19.0},{"s":"Mic","k":"GC","t":178,"y":12.6,"l":6.0,"h":18.9},{"s":"Mic","k":"GC","t":182,"y":12.3,"l":6.0,"h":19.0},{"s":"Mic","k":"GC","t":186,"y":12.6,"l":6.3,"h":19.2},{"s":"Mic","k":"GC","t":190,"y":13.5,"l":7.5,"h":19.5},{"s":"Mic","k":"GC","t":195,"y":15.3,"l":9.6,"h":19.9},{"s":"Mic","k":"GC","t":200,"y":16.4,"l":11.8,"h":20.4},
{"s":"Mic","k":"VD","t":0,"y":24.4},{"s":"Mic","k":"VD","t":200,"y":24.4},{"s":"Mic","k":"GD","t":0,"y":23.2},{"s":"Mic","k":"GD","t":200,"y":23.2},
{"s":"Ship","k":"VC","t":0,"y":19.3,"l":16.5,"h":23.3},{"s":"Ship","k":"VC","t":10,"y":19.7,"l":17.0,"h":23.5},{"s":"Ship","k":"VC","t":20,"y":20.0,"l":17.5,"h":23.5},{"s":"Ship","k":"VC","t":30,"y":20.3,"l":18.0,"h":23.3},{"s":"Ship","k":"VC","t":40,"y":20.6,"l":18.4,"h":23.0},{"s":"Ship","k":"VC","t":60,"y":20.8,"l":18.7,"h":22.8},{"s":"Ship","k":"VC","t":100,"y":20.8,"l":18.8,"h":22.5},{"s":"Ship","k":"VC","t":150,"y":20.8,"l":19.0,"h":22.5},{"s":"Ship","k":"VC","t":200,"y":20.8,"l":19.0,"h":22.5},
{"s":"Ship","k":"GC","t":0,"y":15.0,"l":12.5,"h":17.5},{"s":"Ship","k":"GC","t":3,"y":16.2,"l":13.5,"h":19.0},{"s":"Ship","k":"GC","t":6,"y":17.3,"l":14.0,"h":20.0},{"s":"Ship","k":"GC","t":9,"y":17.9,"l":14.4,"h":20.5},{"s":"Ship","k":"GC","t":12,"y":17.4,"l":14.6,"h":20.8},{"s":"Ship","k":"GC","t":16,"y":18.3,"l":14.8,"h":21.0},{"s":"Ship","k":"GC","t":20,"y":17.9,"l":15.0,"h":21.2},{"s":"Ship","k":"GC","t":24,"y":18.5,"l":15.2,"h":21.4},{"s":"Ship","k":"GC","t":28,"y":18.1,"l":15.4,"h":21.5},{"s":"Ship","k":"GC","t":32,"y":18.7,"l":15.5,"h":21.6},{"s":"Ship","k":"GC","t":36,"y":18.3,"l":15.6,"h":21.7},{"s":"Ship","k":"GC","t":40,"y":18.8,"l":15.8,"h":21.8},{"s":"Ship","k":"GC","t":44,"y":18.4,"l":15.9,"h":21.9},{"s":"Ship","k":"GC","t":48,"y":19.0,"l":16.0,"h":22.0},{"s":"Ship","k":"GC","t":52,"y":18.6,"l":16.1,"h":22.1},{"s":"Ship","k":"GC","t":56,"y":19.2,"l":16.2,"h":22.2},{"s":"Ship","k":"GC","t":60,"y":18.8,"l":16.3,"h":22.2},{"s":"Ship","k":"GC","t":64,"y":19.4,"l":16.4,"h":22.3},{"s":"Ship","k":"GC","t":68,"y":19.0,"l":16.5,"h":22.3},{"s":"Ship","k":"GC","t":72,"y":19.5,"l":16.6,"h":22.3},{"s":"Ship","k":"GC","t":76,"y":19.1,"l":16.6,"h":22.3},{"s":"Ship","k":"GC","t":80,"y":19.6,"l":16.7,"h":22.3},{"s":"Ship","k":"GC","t":84,"y":19.2,"l":16.8,"h":22.3},{"s":"Ship","k":"GC","t":88,"y":19.7,"l":16.9,"h":22.3},{"s":"Ship","k":"GC","t":92,"y":19.3,"l":17.0,"h":22.3},{"s":"Ship","k":"GC","t":96,"y":19.8,"l":17.0,"h":22.3},{"s":"Ship","k":"GC","t":100,"y":19.9,"l":17.0,"h":22.2},{"s":"Ship","k":"GC","t":104,"y":19.2,"l":16.3,"h":21.8},{"s":"Ship","k":"GC","t":108,"y":18.6,"l":15.7,"h":21.5},{"s":"Ship","k":"GC","t":114,"y":17.9,"l":14.8,"h":20.9},{"s":"Ship","k":"GC","t":120,"y":17.3,"l":14.0,"h":20.4},{"s":"Ship","k":"GC","t":126,"y":16.8,"l":13.2,"h":20.0},{"s":"Ship","k":"GC","t":132,"y":16.2,"l":12.2,"h":19.7},{"s":"Ship","k":"GC","t":138,"y":15.7,"l":11.5,"h":19.4},{"s":"Ship","k":"GC","t":144,"y":15.2,"l":10.3,"h":19.1},{"s":"Ship","k":"GC","t":150,"y":14.7,"l":9.0,"h":18.8},{"s":"Ship","k":"GC","t":156,"y":14.2,"l":8.0,"h":18.5},{"s":"Ship","k":"GC","t":162,"y":13.8,"l":7.5,"h":18.3},{"s":"Ship","k":"GC","t":168,"y":13.4,"l":7.3,"h":18.0},{"s":"Ship","k":"GC","t":174,"y":12.8,"l":7.2,"h":17.8},{"s":"Ship","k":"GC","t":180,"y":12.2,"l":7.1,"h":17.4},{"s":"Ship","k":"GC","t":185,"y":11.5,"l":7.0,"h":16.8},{"s":"Ship","k":"GC","t":190,"y":10.9,"l":7.0,"h":16.2},{"s":"Ship","k":"GC","t":195,"y":11.7,"l":7.1,"h":16.8},{"s":"Ship","k":"GC","t":200,"y":12.4,"l":7.3,"h":17.6},
{"s":"Ship","k":"VD","t":0,"y":20.8},{"s":"Ship","k":"VD","t":200,"y":20.8},{"s":"Ship","k":"GD","t":0,"y":21.1},{"s":"Ship","k":"GD","t":200,"y":21.1}
]
},
"hconcat": [
{
  "spacing": 0,
  "resolve": {"scale": {"color": "independent", "strokeDash": "independent", "x": "independent", "y": "independent"}, "legend": {"color": "independent", "strokeDash": "independent"}},
  "vconcat": [
    {"width": 303, "height": 21, "data": {"values": []}, "mark": "point", "view": {"stroke": "transparent"}},
    {
      "width": 303, "height": 207,
      "data": {"name": "a"},
      "title": {"text": "(a)", "orient": "bottom", "frame": "bounds", "anchor": "middle", "offset": 15, "font": "Liberation Serif", "fontSize": 21, "color": "#111111"},
      "encoding": {
        "x": {"field": "t", "type": "quantitative", "title": "Step", "scale": {"domain": [-3.15, 66.15], "nice": false, "zero": false}, "axis": {"values": [0,10,20,30,40,50,60], "labelFontSize": 10.5, "titleFontSize": 12.3, "labelPadding": 3.5, "titlePadding": 2}}
      },
      "layer": [
        {"transform": [{"filter": "datum.k == 'VC'"}], "mark": {"type": "area", "color": "#2ca02c", "opacity": 0.14},
         "encoding": {"y": {"field": "l", "type": "quantitative", "title": "PSNR (dB)", "scale": {"domain": [0.6, 30], "nice": false, "zero": false}, "axis": {"values": [5,10,15,20,25], "labelFontSize": 10.5, "titleFontSize": 12.3, "labelPadding": 4.5, "titlePadding": 6}}, "y2": {"field": "h"}}},
        {"transform": [{"filter": "datum.k == 'GC'"}], "mark": {"type": "area", "color": "#d62728", "opacity": 0.14},
         "encoding": {"y": {"field": "l", "type": "quantitative", "title": "PSNR (dB)", "scale": {"domain": [0.6, 30], "nice": false, "zero": false}, "axis": {"values": [5,10,15,20,25], "labelFontSize": 10.5, "titleFontSize": 12.3, "labelPadding": 4.5, "titlePadding": 6}}, "y2": {"field": "h"}}},
        {"mark": {"type": "line", "strokeWidth": 1.5},
         "encoding": {
           "y": {"field": "y", "type": "quantitative", "title": "PSNR (dB)", "scale": {"domain": [0.6, 30], "nice": false, "zero": false}, "axis": {"values": [5,10,15,20,25], "labelFontSize": 10.5, "titleFontSize": 12.3, "labelPadding": 4.5, "titlePadding": 6}},
           "color": {"field": "k", "type": "nominal", "scale": {"domain": ["VC","GC","VD","GD"], "range": ["#2ca02c","#d62728","#2ca02c","#d62728"]},
             "legend": {"orient": "none", "legendX": -42, "legendY": 245, "direction": "horizontal", "columns": 2, "columnPadding": 14, "rowPadding": 5, "padding": 2, "labelFontSize": 9.0, "labelOffset": 7, "symbolType": "M-2.4,0H2.4", "symbolSize": 64,
               "labelExpr": "datum.label == 'VC' ? 'VBGS (Random Init) Continual' : datum.label == 'GC' ? 'Gradient (Random Init) Continual' : datum.label == 'VD' ? 'VBGS (Random Init)' : 'Gradient (Random Init)'"}},
           "strokeDash": {"field": "k", "type": "nominal", "scale": {"domain": ["VC","GC","VD","GD"], "range": [[1,0],[1,0],[6,3],[6,3]]}, "legend": null}
         }}
      ]
    }
  ]
},
{
  "data": {"name": "b"},
  "columns": 4,
  "bounds": "flush",
  "spacing": {"row": 55.7, "column": 15},
  "resolve": {"scale": {"color": "independent", "strokeDash": "independent", "x": "independent", "y": "independent"}, "legend": {"color": "independent", "strokeDash": "independent"}},
  "title": {"text": "(b)", "orient": "bottom", "frame": "bounds", "anchor": "middle", "offset": 15, "font": "Liberation Serif", "fontSize": 21, "color": "#111111"},
  "concat": [
    {"title": "Chair", "transform": [{"filter": "datum.s == 'Chair'"}],
     "encoding": {"x": {"field": "t", "type": "quantitative", "title": "Step", "scale": {"domain": [-10, 210], "nice": false, "zero": false}, "axis": {"values": [0,100,200]}}},
     "layer": [
      {"transform": [{"filter": "datum.k == 'VC'"}], "mark": {"type": "area", "color": "#2ca02c", "opacity": 0.25}, "encoding": {"y": {"field": "l", "type": "quantitative", "title": "PSNR (dB)", "scale": {"domain": [-1.3, 27.6], "nice": false, "zero": false}, "axis": {"values": [0,10,20]}}, "y2": {"field": "h"}}},
      {"transform": [{"filter": "datum.k == 'GC'"}], "mark": {"type": "area", "color": "#d62728", "opacity": 0.25}, "encoding": {"y": {"field": "l", "type": "quantitative", "title": "PSNR (dB)", "scale": {"domain": [-1.3, 27.6], "nice": false, "zero": false}, "axis": {"values": [0,10,20]}}, "y2": {"field": "h"}}},
      {"mark": {"type": "line", "strokeWidth": 1.2}, "encoding": {"y": {"field": "y", "type": "quantitative", "title": "PSNR (dB)", "scale": {"domain": [-1.3, 27.6], "nice": false, "zero": false}, "axis": {"values": [0,10,20]}},
        "color": {"field": "k", "type": "nominal", "scale": {"domain": ["VC","VD","GC","GD"], "range": ["#2ca02c","#006400","#d62728","#8b0000"]}, "legend": null},
        "strokeDash": {"field": "k", "type": "nominal", "scale": {"domain": ["VC","VD","GC","GD"], "range": [[1,0],[5,2.5],[1,0],[5,2.5]]}, "legend": null}}}
     ]},
    {"title": "Drums", "transform": [{"filter": "datum.s == 'Drums'"}],
     "encoding": {"x": {"field": "t", "type": "quantitative", "title": "Step", "scale": {"domain": [-10, 210], "nice": false, "zero": false}, "axis": {"values": [0,100,200]}}},
     "layer": [
      {"transform": [{"filter": "datum.k == 'VC'"}], "mark": {"type": "area", "color": "#2ca02c", "opacity": 0.25}, "encoding": {"y": {"field": "l", "type": "quantitative", "scale": {"domain": [-1.3, 27.6], "nice": false, "zero": false}, "axis": {"values": [0,10,20], "labels": false, "title": null}}, "y2": {"field": "h"}}},
      {"transform": [{"filter": "datum.k == 'GC'"}], "mark": {"type": "area", "color": "#d62728", "opacity": 0.25}, "encoding": {"y": {"field": "l", "type": "quantitative", "scale": {"domain": [-1.3, 27.6], "nice": false, "zero": false}, "axis": {"values": [0,10,20], "labels": false, "title": null}}, "y2": {"field": "h"}}},
      {"mark": {"type": "line", "strokeWidth": 1.2}, "encoding": {"y": {"field": "y", "type": "quantitative", "scale": {"domain": [-1.3, 27.6], "nice": false, "zero": false}, "axis": {"values": [0,10,20], "labels": false, "title": null}},
        "color": {"field": "k", "type": "nominal", "scale": {"domain": ["VC","VD","GC","GD"], "range": ["#2ca02c","#006400","#d62728","#8b0000"]}, "legend": null},
        "strokeDash": {"field": "k", "type": "nominal", "scale": {"domain": ["VC","VD","GC","GD"], "range": [[1,0],[5,2.5],[1,0],[5,2.5]]}, "legend": null}}}
     ]},
    {"title": "Ficus", "transform": [{"filter": "datum.s == 'Ficus'"}],
     "encoding": {"x": {"field": "t", "type": "quantitative", "title": "Step", "scale": {"domain": [-10, 210], "nice": false, "zero": false}, "axis": {"values": [0,100,200]}}},
     "layer": [
      {"transform": [{"filter": "datum.k == 'VC'"}], "mark": {"type": "area", "color": "#2ca02c", "opacity": 0.25}, "encoding": {"y": {"field": "l", "type": "quantitative", "scale": {"domain": [-1.3, 27.6], "nice": false, "zero": false}, "axis": {"values": [0,10,20], "labels": false, "title": null}}, "y2": {"field": "h"}}},
      {"transform": [{"filter": "datum.k == 'GC'"}], "mark": {"type": "area", "color": "#d62728", "opacity": 0.25}, "encoding": {"y": {"field": "l", "type": "quantitative", "scale": {"domain": [-1.3, 27.6], "nice": false, "zero": false}, "axis": {"values": [0,10,20], "labels": false, "title": null}}, "y2": {"field": "h"}}},
      {"mark": {"type": "line", "strokeWidth": 1.2}, "encoding": {"y": {"field": "y", "type": "quantitative", "scale": {"domain": [-1.3, 27.6], "nice": false, "zero": false}, "axis": {"values": [0,10,20], "labels": false, "title": null}},
        "color": {"field": "k", "type": "nominal", "scale": {"domain": ["VC","VD","GC","GD"], "range": ["#2ca02c","#006400","#d62728","#8b0000"]}, "legend": null},
        "strokeDash": {"field": "k", "type": "nominal", "scale": {"domain": ["VC","VD","GC","GD"], "range": [[1,0],[5,2.5],[1,0],[5,2.5]]}, "legend": null}}}
     ]},
    {"title": "Hotdog", "transform": [{"filter": "datum.s == 'Hotdog'"}],
     "encoding": {"x": {"field": "t", "type": "quantitative", "title": "Step", "scale": {"domain": [-10, 210], "nice": false, "zero": false}, "axis": {"values": [0,100,200]}}},
     "layer": [
      {"transform": [{"filter": "datum.k == 'VC'"}], "mark": {"type": "area", "color": "#2ca02c", "opacity": 0.25}, "encoding": {"y": {"field": "l", "type": "quantitative", "scale": {"domain": [-1.3, 27.6], "nice": false, "zero": false}, "axis": {"values": [0,10,20], "labels": false, "title": null}}, "y2": {"field": "h"}}},
      {"transform": [{"filter": "datum.k == 'GC'"}], "mark": {"type": "area", "color": "#d62728", "opacity": 0.25}, "encoding": {"y": {"field": "l", "type": "quantitative", "scale": {"domain": [-1.3, 27.6], "nice": false, "zero": false}, "axis": {"values": [0,10,20], "labels": false, "title": null}}, "y2": {"field": "h"}}},
      {"mark": {"type": "line", "strokeWidth": 1.2}, "encoding": {"y": {"field": "y", "type": "quantitative", "scale": {"domain": [-1.3, 27.6], "nice": false, "zero": false}, "axis": {"values": [0,10,20], "labels": false, "title": null}},
        "color": {"field": "k", "type": "nominal", "scale": {"domain": ["VC","VD","GC","GD"], "range": ["#2ca02c","#006400","#d62728","#8b0000"]}, "legend": null},
        "strokeDash": {"field": "k", "type": "nominal", "scale": {"domain": ["VC","VD","GC","GD"], "range": [[1,0],[5,2.5],[1,0],[5,2.5]]}, "legend": null}}}
     ]},
    {"title": "Lego", "transform": [{"filter": "datum.s == 'Lego'"}],
     "encoding": {"x": {"field": "t", "type": "quantitative", "title": "Step", "scale": {"domain": [-10, 210], "nice": false, "zero": false}, "axis": {"values": [0,100,200]}}},
     "layer": [
      {"transform": [{"filter": "datum.k == 'VC'"}], "mark": {"type": "area", "color": "#2ca02c", "opacity": 0.25}, "encoding": {"y": {"field": "l", "type": "quantitative", "title": "PSNR (dB)", "scale": {"domain": [-1.3, 27.6], "nice": false, "zero": false}, "axis": {"values": [0,10,20]}}, "y2": {"field": "h"}}},
      {"transform": [{"filter": "datum.k == 'GC'"}], "mark": {"type": "area", "color": "#d62728", "opacity": 0.25}, "encoding": {"y": {"field": "l", "type": "quantitative", "title": "PSNR (dB)", "scale": {"domain": [-1.3, 27.6], "nice": false, "zero": false}, "axis": {"values": [0,10,20]}}, "y2": {"field": "h"}}},
      {"mark": {"type": "line", "strokeWidth": 1.2}, "encoding": {"y": {"field": "y", "type": "quantitative", "title": "PSNR (dB)", "scale": {"domain": [-1.3, 27.6], "nice": false, "zero": false}, "axis": {"values": [0,10,20]}},
        "color": {"field": "k", "type": "nominal", "scale": {"domain": ["VC","VD","GC","GD"], "range": ["#2ca02c","#006400","#d62728","#8b0000"]},
          "legend": {"orient": "none", "legendX": -31.7, "legendY": 131.3, "direction": "horizontal", "columns": 4, "columnPadding": 19, "padding": 3, "labelFontSize": 9.45, "labelOffset": 8, "symbolType": "M-2.25,0H2.25", "symbolSize": 64,
            "labelExpr": "datum.label == 'VC' ? 'VBGS (Random Init) Continual' : datum.label == 'GC' ? 'Gradient (Random Init) Continual' : datum.label == 'VD' ? 'VBGS (Random Init)' : 'Gradient (Random Init)'"}},
        "strokeDash": {"field": "k", "type": "nominal", "scale": {"domain": ["VC","VD","GC","GD"], "range": [[1,0],[5,2.5],[1,0],[5,2.5]]}, "legend": null}}}
     ]},
    {"title": "Materials", "transform": [{"filter": "datum.s == 'Materials'"}],
     "encoding": {"x": {"field": "t", "type": "quantitative", "title": "Step", "scale": {"domain": [-10, 210], "nice": false, "zero": false}, "axis": {"values": [0,100,200]}}},
     "layer": [
      {"transform": [{"filter": "datum.k == 'VC'"}], "mark": {"type": "area", "color": "#2ca02c", "opacity": 0.25}, "encoding": {"y": {"field": "l", "type": "quantitative", "scale": {"domain": [-1.3, 27.6], "nice": false, "zero": false}, "axis": {"values": [0,10,20], "labels": false, "title": null}}, "y2": {"field": "h"}}},
      {"transform": [{"filter": "datum.k == 'GC'"}], "mark": {"type": "area", "color": "#d62728", "opacity": 0.25}, "encoding": {"y": {"field": "l", "type": "quantitative", "scale": {"domain": [-1.3, 27.6], "nice": false, "zero": false}, "axis": {"values": [0,10,20], "labels": false, "title": null}}, "y2": {"field": "h"}}},
      {"mark": {"type": "line", "strokeWidth": 1.2}, "encoding": {"y": {"field": "y", "type": "quantitative", "scale": {"domain": [-1.3, 27.6], "nice": false, "zero": false}, "axis": {"values": [0,10,20], "labels": false, "title": null}},
        "color": {"field": "k", "type": "nominal", "scale": {"domain": ["VC","VD","GC","GD"], "range": ["#2ca02c","#006400","#d62728","#8b0000"]}, "legend": null},
        "strokeDash": {"field": "k", "type": "nominal", "scale": {"domain": ["VC","VD","GC","GD"], "range": [[1,0],[5,2.5],[1,0],[5,2.5]]}, "legend": null}}}
     ]},
    {"title": "Mic", "transform": [{"filter": "datum.s == 'Mic'"}],
     "encoding": {"x": {"field": "t", "type": "quantitative", "title": "Step", "scale": {"domain": [-10, 210], "nice": false, "zero": false}, "axis": {"values": [0,100,200]}}},
     "layer": [
      {"transform": [{"filter": "datum.k == 'VC'"}], "mark": {"type": "area", "color": "#2ca02c", "opacity": 0.25}, "encoding": {"y": {"field": "l", "type": "quantitative", "scale": {"domain": [-1.3, 27.6], "nice": false, "zero": false}, "axis": {"values": [0,10,20], "labels": false, "title": null}}, "y2": {"field": "h"}}},
      {"transform": [{"filter": "datum.k == 'GC'"}], "mark": {"type": "area", "color": "#d62728", "opacity": 0.25}, "encoding": {"y": {"field": "l", "type": "quantitative", "scale": {"domain": [-1.3, 27.6], "nice": false, "zero": false}, "axis": {"values": [0,10,20], "labels": false, "title": null}}, "y2": {"field": "h"}}},
      {"mark": {"type": "line", "strokeWidth": 1.2}, "encoding": {"y": {"field": "y", "type": "quantitative", "scale": {"domain": [-1.3, 27.6], "nice": false, "zero": false}, "axis": {"values": [0,10,20], "labels": false, "title": null}},
        "color": {"field": "k", "type": "nominal", "scale": {"domain": ["VC","VD","GC","GD"], "range": ["#2ca02c","#006400","#d62728","#8b0000"]}, "legend": null},
        "strokeDash": {"field": "k", "type": "nominal", "scale": {"domain": ["VC","VD","GC","GD"], "range": [[1,0],[5,2.5],[1,0],[5,2.5]]}, "legend": null}}}
     ]},
    {"title": "Ship", "transform": [{"filter": "datum.s == 'Ship'"}],
     "encoding": {"x": {"field": "t", "type": "quantitative", "title": "Step", "scale": {"domain": [-10, 210], "nice": false, "zero": false}, "axis": {"values": [0,100,200]}}},
     "layer": [
      {"transform": [{"filter": "datum.k == 'VC'"}], "mark": {"type": "area", "color": "#2ca02c", "opacity": 0.25}, "encoding": {"y": {"field": "l", "type": "quantitative", "scale": {"domain": [-1.3, 27.6], "nice": false, "zero": false}, "axis": {"values": [0,10,20], "labels": false, "title": null}}, "y2": {"field": "h"}}},
      {"transform": [{"filter": "datum.k == 'GC'"}], "mark": {"type": "area", "color": "#d62728", "opacity": 0.25}, "encoding": {"y": {"field": "l", "type": "quantitative", "scale": {"domain": [-1.3, 27.6], "nice": false, "zero": false}, "axis": {"values": [0,10,20], "labels": false, "title": null}}, "y2": {"field": "h"}}},
      {"mark": {"type": "line", "strokeWidth": 1.2}, "encoding": {"y": {"field": "y", "type": "quantitative", "scale": {"domain": [-1.3, 27.6], "nice": false, "zero": false}, "axis": {"values": [0,10,20], "labels": false, "title": null}},
        "color": {"field": "k", "type": "nominal", "scale": {"domain": ["VC","VD","GC","GD"], "range": ["#2ca02c","#006400","#d62728","#8b0000"]}, "legend": null},
        "strokeDash": {"field": "k", "type": "nominal", "scale": {"domain": ["VC","VD","GC","GD"], "range": [[1,0],[5,2.5],[1,0],[5,2.5]]}, "legend": null}}}
     ]}
  ]
}
]
}
